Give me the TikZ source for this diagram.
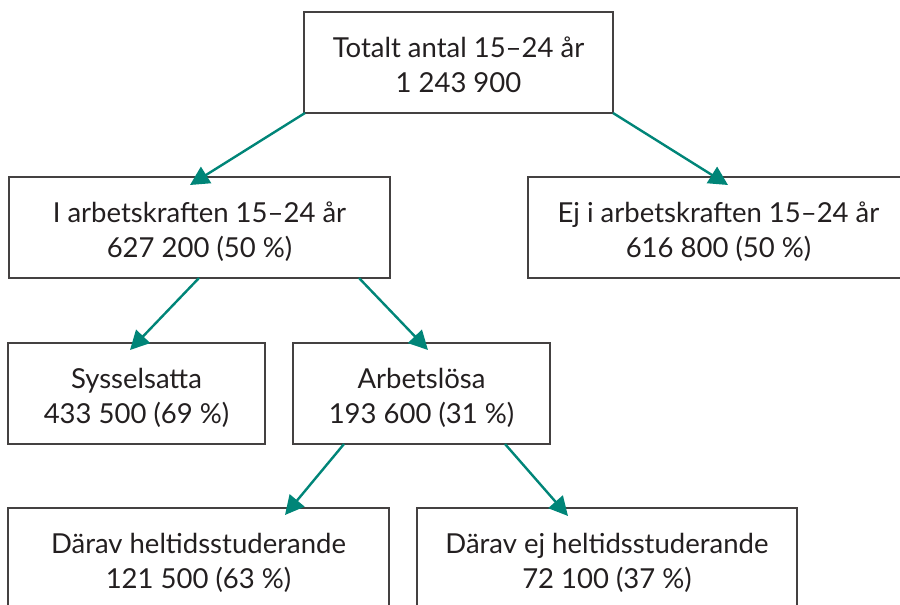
\documentclass[tikz,border=0pt]{standalone}
\usepackage{fontspec}
\setmainfont{Lato}
\usetikzlibrary{arrows.meta}
\definecolor{teal1}{RGB}{0,133,120}
\definecolor{ink}{RGB}{35,31,32}
\newcommand\mytop{\rule{0pt}{30pt}}
\newcommand\mybot{\rule[-6pt]{0pt}{6pt}}
\begin{document}
\begin{tikzpicture}[x=1pt,y=-1pt,
  box/.style={draw=ink!85,line width=1.3pt,rectangle,inner sep=0pt,outer sep=0pt,
    minimum height=101pt,align=center,text=ink,
    font=\fontsize{27.5}{35}\selectfont},
  conn/.style={draw=teal1,line width=2.4pt,-{Triangle[length=19pt,width=19pt]}}]
\useasboundingbox (0,0) rectangle (900,605);
\clip (0,0) rectangle (900,605);
\node[box,minimum width=309pt] (b1) at (458.5,62.5) {\mytop Totalt antal 15–24 år\\1 243 900\mybot};
\node[box,minimum width=381pt] (b2) at (199.5,227.5) {\mytop I arbetskraften 15–24 år\\627 200 (50 \%)\mybot};
\node[box,minimum width=381pt] (b3) at (718.5,227.5) {\mytop Ej i arbetskraften 15–24 år\\616 800 (50 \%)\mybot};
\node[box,minimum width=257pt] (b4) at (136.5,393.5) {\mytop Sysselsatta\\433 500 (69 \%)\mybot};
\node[box,minimum width=257pt] (b5) at (421.5,393.5) {\mytop Arbetslösa\\193 600 (31 \%)\mybot};
\node[box,minimum width=381pt] (b6) at (198.5,558.5) {\mytop Därav heltidsstuderande\\121 500 (63 \%)\mybot};
\node[box,minimum width=380pt] (b7) at (607,558.5) {\mytop Därav ej heltidsstuderande\\72 100 (37 \%)\mybot};
\coordinate (s1) at (305,113); \coordinate (t1) at (190,185);
\coordinate (s2) at (613,113); \coordinate (t2) at (728,185);
\coordinate (s3) at (199,278); \coordinate (t3) at (130,350);
\coordinate (s4) at (359,278); \coordinate (t4) at (428,350);
\coordinate (s5) at (344,444); \coordinate (t5) at (285,515);
\coordinate (s6) at (505,444); \coordinate (t6) at (568,516);
\draw[conn] (s1) -- (t1);
\draw[conn] (s2) -- (t2);
\draw[conn] (s3) -- (t3);
\draw[conn] (s4) -- (t4);
\draw[conn] (s5) -- (t5);
\draw[conn] (s6) -- (t6);
\end{tikzpicture}
\end{document}
